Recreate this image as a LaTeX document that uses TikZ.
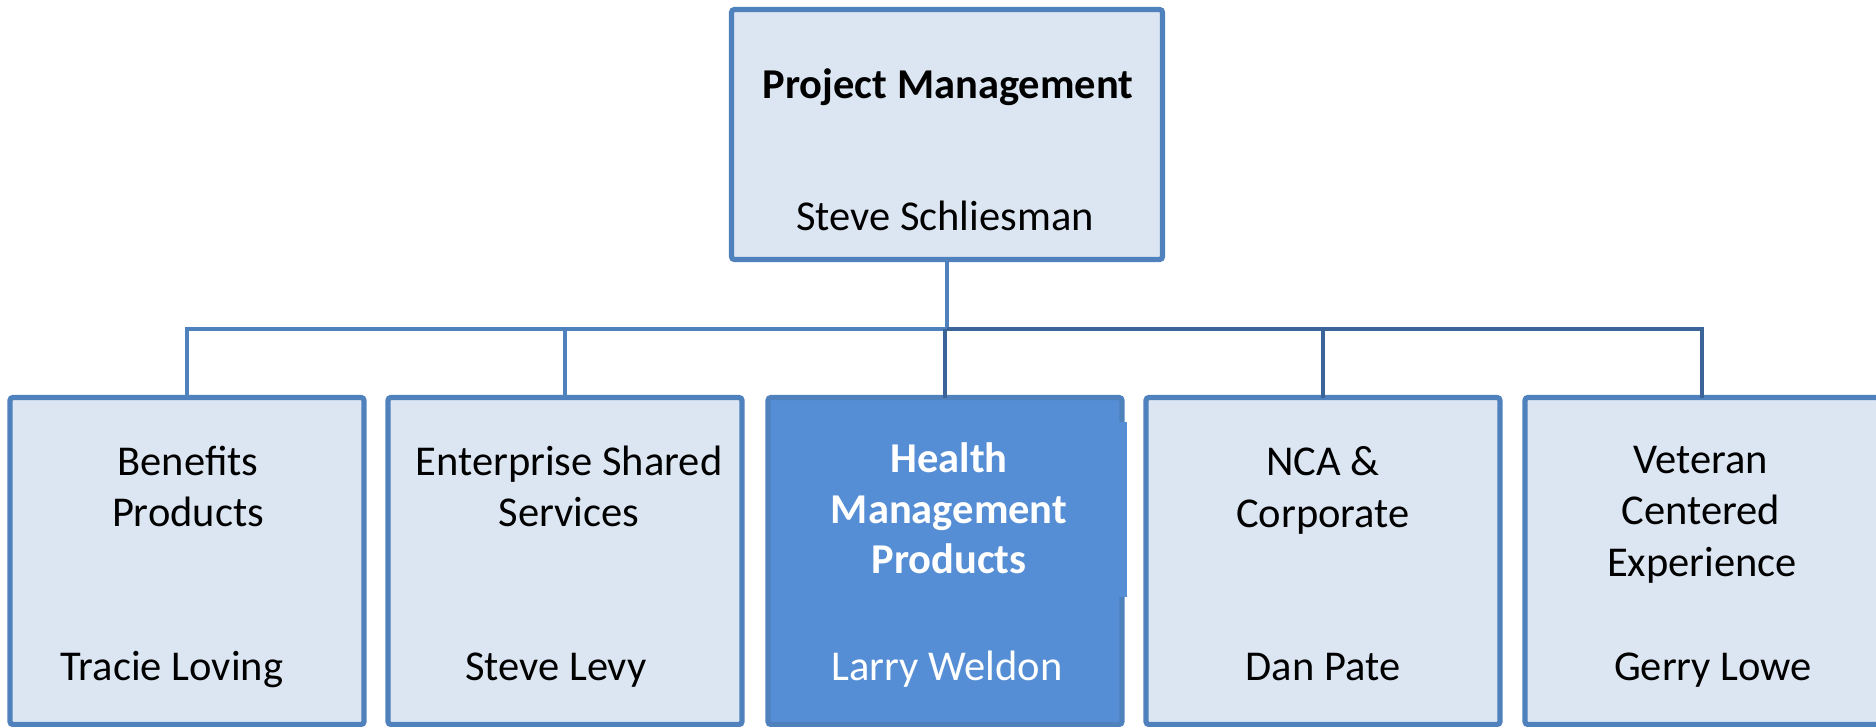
\documentclass[tikz,border=0pt]{standalone}
\usepackage{fontspec}
\setmainfont{Carlito}
\definecolor{bord}{HTML}{4F81BD}
\definecolor{lightfill}{HTML}{DCE6F2}
\definecolor{hifill}{HTML}{558ED5}
\definecolor{darkline}{HTML}{3B6598}
\tikzset{
  orgbox/.style={draw=bord, line width=2.1pt, fill=lightfill, rounded corners=1.2pt,
    inner sep=0pt, outer sep=0pt, minimum width=141.6pt, minimum height=130.8pt},
  rootbox/.style={orgbox, minimum width=172.4pt, minimum height=100pt},
  hibox/.style={orgbox, fill=hifill},
  conn/.style={draw=bord, line width=1.7pt},
  connd/.style={draw=darkline, line width=1.7pt},
  txt/.style={anchor=base, inner sep=0pt, font=\fontsize{17}{20.4}\selectfont},
  btxt/.style={txt, font=\fontsize{17}{20.4}\selectfont\bfseries},
}
\begin{document}
\begin{tikzpicture}[x=0.4pt,y=-0.4pt]
\useasboundingbox (0,0) rectangle (1876,727);
% boxes
\node[rootbox] (root) at (947,134.5) {};
\node[orgbox] (b1) at (187,561) {};
\node[orgbox] (b2) at (565,561) {};
\node[hibox] (b3) at (945,561) {};
\node[orgbox] (b4) at (1323,561) {};
\node[orgbox] (b5) at (1702,561) {};
\fill[hifill] (1117,422) rectangle (1127,597);
% connectors
\coordinate (bus) at (947,329);
\draw[conn] (root.south) -- (bus);
\draw[conn] (b1.north) |- (bus);
\draw[conn] (b2.north) -- (b2.north |- bus);
\draw[connd] (bus) -| (b5.north);
\draw[connd] (b3.north) -- (b3.north |- bus);
\draw[connd] (b4.north) -- (b4.north |- bus);
% texts
\node[btxt] (t0a) at (948,98) {Project Management};
\node[txt] (t0b) at (945,230) {Steve Schliesman};
\node[txt] (t1a) at (188,475) {Benefits};
\node[txt] (t1b) at (188,526) {Products};
\node[txt] (t1c) at (172,680) {Tracie Loving};
\node[txt] (t2a) at (569,475) {Enterprise Shared};
\node[txt] (t2b) at (569,526) {Services};
\node[txt] (t2c) at (556,680) {Steve Levy};
\node[btxt, text=white] (t3a) at (949,472) {Health};
\node[btxt, text=white] (t3b) at (949,523) {Management};
\node[btxt, text=white] (t3c) at (949,573) {Products};
\node[txt, text=white] (t3d) at (947,680) {Larry Weldon};
\node[txt] (t4a) at (1323,475) {NCA \&};
\node[txt] (t4b) at (1323,527) {Corporate};
\node[txt] (t4c) at (1323,680) {Dan Pate};
\node[txt] (t5a) at (1701,473) {Veteran};
\node[txt] (t5b) at (1701,524) {Centered};
\node[txt] (t5c) at (1702,576) {Experience};
\node[txt] (t5d) at (1713,680) {Gerry Lowe};
\end{tikzpicture}
\end{document}
